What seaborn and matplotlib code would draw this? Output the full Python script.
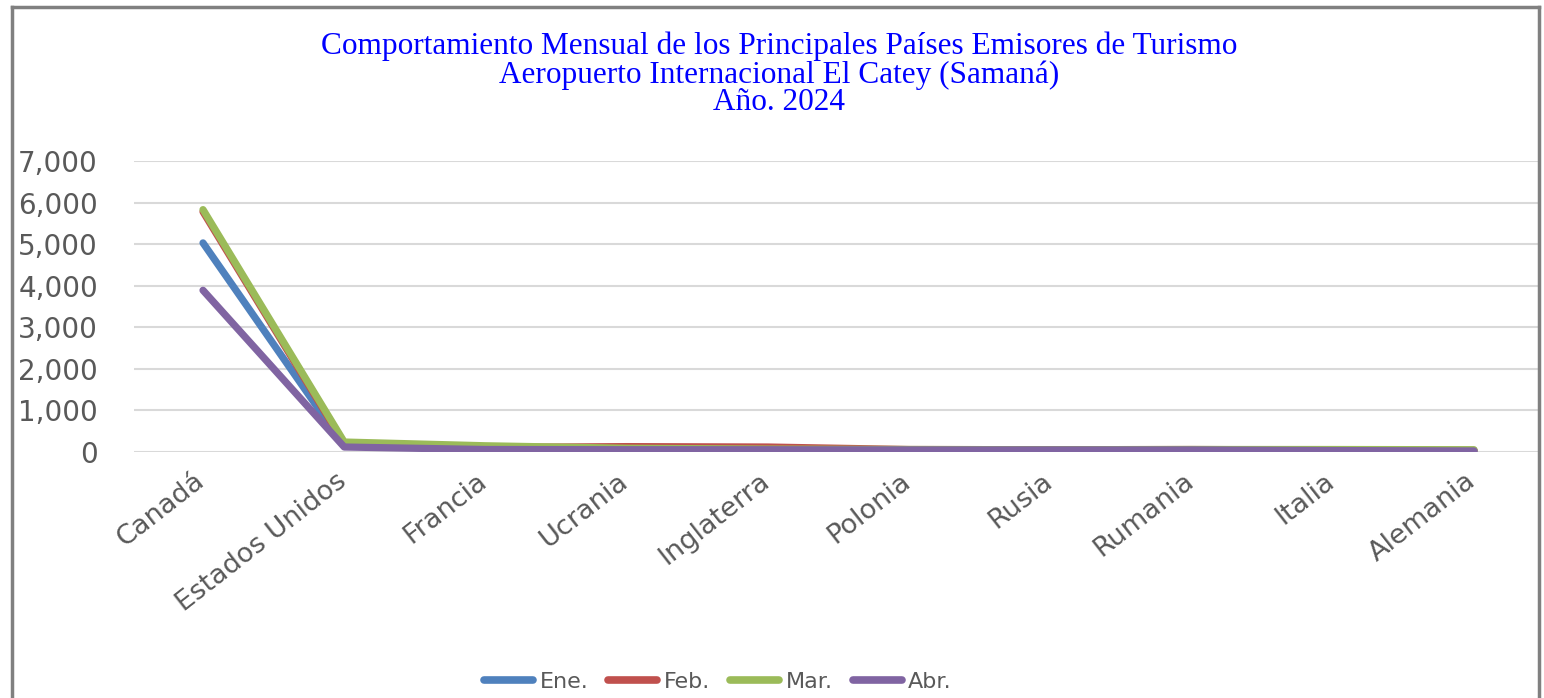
import matplotlib
matplotlib.use("Agg")
import matplotlib.pyplot as plt
import seaborn as sns
import pandas as pd
from matplotlib.lines import Line2D
import matplotlib.transforms as mtransforms

countries = ["Canadá", "Estados Unidos", "Francia", "Ucrania", "Inglaterra",
             "Polonia", "Rusia", "Rumania", "Italia", "Alemania"]
months = ["Ene.", "Feb.", "Mar.", "Abr."]
ene = [5030, 150, 70, 60, 60, 50, 50, 50, 40, 30]
feb = [5780, 200, 110, 130, 120, 60, 55, 60, 50, 40]
mar = [5830, 240, 150, 90, 70, 60, 55, 60, 60, 55]
abr = [3890, 120, 60, 55, 55, 50, 50, 50, 35, 25]
colors = ["#4F81BD", "#C0504D", "#9BBB59", "#8064A2"]
yticks = [0, 1000, 2000, 3000, 4000, 5000, 6000, 7000]
title_lines = ["Comportamiento Mensual de los Principales Países Emisores de Turismo",
               "Aeropuerto Internacional El Catey (Samaná)",
               "Año. 2024"]

rows = []
for m, vals in zip(months, [ene, feb, mar, abr]):
    for i, (c, v) in enumerate(zip(countries, vals)):
        rows.append({"idx": i, "country": c, "month": m, "value": v})
df = pd.DataFrame(rows)

sns.set_style("white")
plt.rcParams["font.family"] = ["DejaVu Sans"]

W, H = 1544, 698
fig = plt.figure(figsize=(W / 100, H / 100), dpi=100)
fig.patch.set_facecolor("white")

left, right, top, bottom = 134, 1538, 161, 452
ax = fig.add_axes([left / W, (H - bottom) / H, (right - left) / W, (bottom - top) / H])

sns.lineplot(data=df, x="idx", y="value", hue="month", hue_order=months,
             palette=colors, linewidth=5.2, ax=ax, legend=False,
             solid_capstyle="round", solid_joinstyle="round", zorder=3)

x0 = 203
step = (1474 - 203) / 9
ax.set_xlim((left - x0) / step, (right - x0) / step)
ax.set_ylim(0, 7000)
ax.set_yticks(yticks)
ax.set_yticklabels([f"{v:,}" for v in yticks])
ax.set_xticks(range(len(countries)))
ax.set_xticklabels(countries, rotation=38, ha="right", va="center",
                   rotation_mode="anchor")
ax.tick_params(axis="y", length=0, pad=26, labelsize=20, labelcolor="#595959")
ax.tick_params(axis="x", length=0, pad=19, labelsize=19.5, labelcolor="#595959")
offset = mtransforms.ScaledTranslation(-1 / 100, 0, fig.dpi_scale_trans)
for lab in ax.get_xticklabels():
    lab.set_transform(lab.get_transform() + offset)
ax.set_xlabel("")
ax.set_ylabel("")
ax.grid(axis="y", color="#D9D9D9", linewidth=1.5, zorder=0)
ax.grid(axis="x", visible=False)
for s in ax.spines.values():
    s.set_visible(False)
ax.set_facecolor("none")

# title
ty = [46, 75, 102]
for line, y in zip(title_lines, ty):
    fig.text(779 / W, 1 - y / H, line, ha="center", va="center",
             color="#0000FF", fontsize=22.5, family=["Liberation Serif"])

# legend
handles = [Line2D([0], [0], color=c, linewidth=5.5, solid_capstyle="round") for c in colors]
leg = fig.legend(handles, months, loc="center", bbox_to_anchor=(718 / W, 1 - 682 / H),
                 ncol=4, frameon=False, fontsize=16, handlelength=2.2,
                 handletextpad=0.3, columnspacing=0.9)
for t in leg.get_texts():
    t.set_color("#595959")

# outer border
bc = "#808080"
fig.add_artist(Line2D([12 / W, 12 / W], [0, 1 - 7 / H], color=bc, linewidth=2.5,
                      transform=fig.transFigure, solid_capstyle="projecting"))
fig.add_artist(Line2D([12 / W, 1539 / W], [1 - 7 / H, 1 - 7 / H], color=bc, linewidth=2.5,
                      transform=fig.transFigure, solid_capstyle="projecting"))
fig.add_artist(Line2D([1539 / W, 1539 / W], [0, 1 - 7 / H], color=bc, linewidth=2.5,
                      transform=fig.transFigure, solid_capstyle="projecting"))

fig.savefig("out.png", dpi=100, facecolor="white")
